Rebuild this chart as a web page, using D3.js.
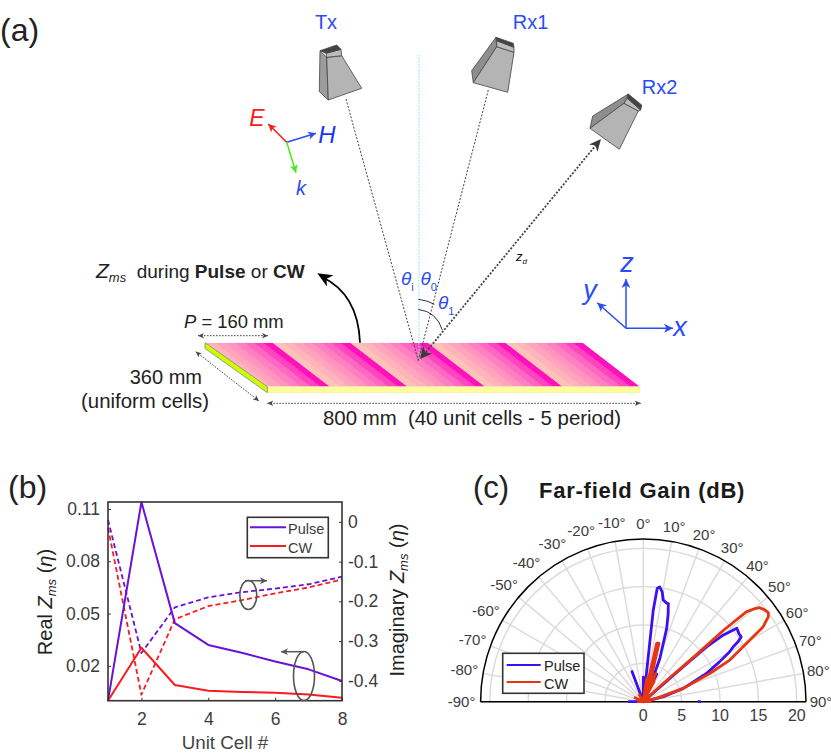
<!DOCTYPE html>
<html>
<head>
<meta charset="utf-8">
<script src="https://d3js.org/d3.v7.min.js"></script>
<style>
    html, body { margin: 0; background: #fff; }
    svg { display: block; font-family: "Liberation Sans", Arial, sans-serif; }
</style>
</head>
<body>
<svg id="fig" width="831" height="756"></svg>
<script>
    // panel (b)
    const unitCells = [1, 2, 3, 4, 5, 6, 7, 8];
    const realPulse = [0.0, 0.114, 0.0445, 0.032, 0.0275, 0.0225, 0.018, 0.0113];
    const realCW = [0.0, 0.0304, 0.009, 0.0057, 0.005, 0.0045, 0.0035, 0.0017];
    const imagPulse = [0.005, -0.33, -0.215, -0.19, -0.177, -0.168, -0.157, -0.138];
    const imagCW = [-0.015, -0.435, -0.245, -0.212, -0.197, -0.18, -0.165, -0.145];
    const realTicks = [0.02, 0.05, 0.08, 0.11];
    const imagTicks = [0, -0.1, -0.2, -0.3, -0.4];
    const cellTicks = [2, 4, 6, 8];

    // panel (c), null = gap in the trace
    const pulseTheta = [-90, -90, -21.5, -20.5, -3, 0, 1, 6.3, 6.2, 7, 8.2, 9.8, 11.1, 13.3, 14.3, 15.8, 17.7, 21, 22.6, 24, 26, 30,
        48.8, 49, 50.2, 51.8, 54.6, 56.5, 57.7, 58.6, 60, 62.4, 65.9, 71.6, 76, 85, 90, 90, 90];
    const pulseGain = [2, 0, 0, 4.2, 0, 3.2, 0, 5.9, 12, 14.9, 15.1, 14.5, 13.5, 13.2, 13.2, 11.9, 10, 6, 2.8, 0, 4, 0,
        6.9, 10.9, 13.6, 15.5, 15.3, 15.3, 14.6, 13.7, 13, 11.2, 9, 5.5, 2.7, 0, null, 7.1, 7.5];
    const cwTheta = [-90, -64, -64, -30, -30, 0, 5, 8, 9, 12.9, 15, 20, 22, 24, 27, 28, 29, 35,
        47.5, 48.5, 48.3, 48.9, 50, 51.1, 52.7, 54.5, 55.8, 58, 60, 64.3, 67, 71.6, 76, 85, 90, 90];
    const cwGain = [0.8, 0, 1.2, 0, 1, 0, 0, 3, 0, 7.8, 7.9, 2.5, 0, 4, 1, 3, 0, 0,
        3.5, 9.2, 14, 17.8, 18.8, 19.5, 19.8, 20, 19.7, 18.4, 16, 12.5, 9.4, 5.5, 1.8, 0, 0, 1.1];
    const gainTicks = [0, 5, 10, 15, 20];
    const angleTicks = d3.range(-90, 91, 10);

    // panel (a) sketch: horn faces [fill, points]
    const hornTx = [
        ["#9c9c9c", [[320, 50.7], [326.7, 57.3], [328.3, 100], [319.3, 91.7]]],
        ["#b4b4b4", [[326.7, 57.3], [341.7, 55.7], [361.7, 88.3], [328.3, 100]]],
        ["#bcbcbc", [[326, 53.3], [341, 49.3], [341.7, 55.7], [326.7, 57.3]]],
        ["#444444", [[320, 50.7], [336.7, 45], [341, 49.3], [326, 53.3]]]
    ];
    const hornRx1 = [
        ["#8e8e8e", [[496, 37.3], [496.7, 46.7], [473.3, 82.7], [471.7, 70.7]]],
        ["#b4b4b4", [[496.7, 46.7], [514, 52.3], [507.7, 92.3], [473.3, 82.7]]],
        ["#bcbcbc", [[496.7, 40.7], [514, 47.3], [514, 52.3], [496.7, 46.7]]],
        ["#444444", [[496, 37.3], [513.3, 43.3], [514, 47.3], [496.7, 40.7]]]
    ];
    const hornRx2 = [
        ["#8e8e8e", [[628.3, 94], [624, 103.3], [590, 128.3], [592.7, 116]]],
        ["#b4b4b4", [[624, 103.3], [638.3, 111], [619.3, 149.3], [590, 128.3]]],
        ["#bcbcbc", [[627.3, 98.3], [640.7, 110], [638.3, 111], [624, 103.3]]],
        ["#444444", [[628.3, 94], [641.7, 105], [640.7, 110], [627.3, 98.3]]]
    ];
    const bandColors = ["#fdc2b8", "#feb4ba", "#ffa4bc", "#ff94be", "#ff80c0", "#ff68c0", "#ff44bf", "#ff12bb"];

    const BLUE = "#2b4cf5", FONT_TEXT = "#222", TICK_TEXT = "#3c3c3c";
    const PULSE_B = "#6a12d8", CW_B = "#fb1a1e", PULSE_C = "#3c10f0", CW_C = "#e6350f";

    const svg = d3.select("#fig");

    function label(g, x, y, size, fill, parts, anchor) {
        // parts: plain string or list of [text, {style}] runs
        const t = g.append("text").attr("x", x).attr("y", y)
            .attr("font-size", size).attr("fill", fill)
            .attr("text-anchor", anchor || "start")
            .attr("xml:space", "preserve");
        if (typeof parts === "string") { t.text(parts); return t; }
        parts.forEach(p => {
            const s = t.append("tspan").text(p[0]);
            const o = p[1] || {};
            if (o.i) s.attr("font-style", "italic");
            if (o.b) s.attr("font-weight", "bold");
            if (o.fs) s.attr("font-size", o.fs);
            if (o.dy) s.attr("dy", o.dy);
        });
        return t;
    }

    function head(g, x1, y1, x2, y2, len, wid, fill) {
        const a = Math.atan2(y2 - y1, x2 - x1);
        const pt = (l, w) => [x2 - l * Math.cos(a) - w * Math.sin(a), y2 - l * Math.sin(a) + w * Math.cos(a)];
        g.append("polygon")
            .attr("points", [[x2, y2], pt(len, wid), pt(len * 0.72, 0), pt(len, -wid)].join(" "))
            .attr("fill", fill);
    }

    function arrow(g, x1, y1, x2, y2, color, width, len, wid, dash) {
        g.append("line").attr("x1", x1).attr("y1", y1).attr("x2", x2).attr("y2", y2)
            .attr("stroke", color).attr("stroke-width", width).attr("stroke-dasharray", dash || null);
        head(g, x1, y1, x2, y2, len, wid, color);
    }

    function dimension(g, x1, y1, x2, y2) {
        g.append("line").attr("x1", x1).attr("y1", y1).attr("x2", x2).attr("y2", y2)
            .attr("stroke", "#444").attr("stroke-width", 1).attr("stroke-dasharray", "1.6 1.4");
        head(g, x2, y2, x1, y1, 6, 2.8, "#444");
        head(g, x1, y1, x2, y2, 6, 2.8, "#444");
    }

    /* ---------- panel (a) ---------- */
    const a = svg.append("g");
    label(a, 0, 41, 32, FONT_TEXT, "(a)");

    const cellX = d3.scaleLinear().domain([0, 40]).range([195.1, 582.7]);
    const plateTop = 342.7, plateBottom = 386.7, shear = 57.3;
    svg.append("clipPath").attr("id", "plate").append("polygon")
        .attr("points", [[205, plateTop], [582.7, plateTop], [640, plateBottom], [267.3, plateBottom]].join(" "));
    a.append("g").attr("clip-path", "url(#plate)")
        .selectAll("polygon").data(d3.range(40)).enter().append("polygon")
        .attr("points", i => [[cellX(i), plateTop], [cellX(i + 1) + 0.4, plateTop],
            [cellX(i + 1) + shear + 0.4, plateBottom], [cellX(i) + shear, plateBottom]].join(" "))
        .attr("fill", i => bandColors[i % 8]);
    a.append("polygon")
        .attr("points", [[267.3, plateBottom], [640, plateBottom], [640, 392.7], [267.3, 392.7]].join(" "))
        .attr("fill", "#ffff99").attr("stroke", "#e6e6c0").attr("stroke-width", 0.5);
    a.append("polygon")
        .attr("points", [[205, 342.7], [267.3, 386.7], [267.3, 392.7], [205, 348.4]].join(" "))
        .attr("fill", "#ccff00").attr("stroke", "#777").attr("stroke-width", 0.7);

    [hornTx, hornRx1, hornRx2].forEach(horn => {
        a.append("g").selectAll("polygon").data(horn).enter().append("polygon")
            .attr("points", d => d[1].join(" "))
            .attr("fill", d => d[0]).attr("stroke", "#444").attr("stroke-width", 0.8)
            .attr("stroke-linejoin", "round");
    });

    // rays
    a.append("line").attr("x1", 419).attr("y1", 55).attr("x2", 419).attr("y2", 361)
        .attr("stroke", "#6fe8ee").attr("stroke-width", 1).attr("stroke-dasharray", "1.5 1.5");
    a.append("line").attr("x1", 346).attr("y1", 99).attr("x2", 418.3).attr("y2", 360.7)
        .attr("stroke", "#444").attr("stroke-width", 1).attr("stroke-dasharray", "2 1.6");
    a.append("line").attr("x1", 488.3).attr("y1", 90).attr("x2", 418.3).attr("y2", 360.7)
        .attr("stroke", "#444").attr("stroke-width", 1).attr("stroke-dasharray", "2 1.6");
    a.append("line").attr("x1", 426).attr("y1", 352).attr("x2", 596).attr("y2", 145)
        .attr("stroke", "#444").attr("stroke-width", 1.8).attr("stroke-dasharray", "2 1.6");
    head(a, 590, 152, 601, 139, 12, 5.5, "#3a3a3a");
    head(a, 440, 335, 420, 359, 12, 6, "#3a3a3a");

    const arcs = a.append("g").attr("fill", "none").attr("stroke", "#333").attr("stroke-width", 1);
    arcs.append("path").attr("d", "M418.3,299.3 Q428,300.5 434.3,304.3");
    arcs.append("path").attr("d", "M418.3,309.3 Q437,312 442.3,330");

    label(a, 401, 285, 19, BLUE, [["θ", { i: 1 }], ["i", { fs: 11, dy: 6 }]]);
    label(a, 420.5, 285, 19, BLUE, [["θ", { i: 1 }], ["0", { fs: 11, dy: 6 }]]);
    label(a, 438, 309, 19, BLUE, [["θ", { i: 1 }], ["1", { fs: 11, dy: 6 }]]);
    label(a, 516, 261, 13, "#111", [["z", { i: 1 }], ["d", { i: 1, fs: 8, dy: 3 }]]);

    label(a, 326, 29, 20, BLUE, "Tx", "middle");
    label(a, 530.5, 29, 20, BLUE, "Rx1", "middle");
    label(a, 659.5, 94, 20, BLUE, "Rx2", "middle");

    // field triad
    arrow(a, 286.7, 142.3, 268.3, 124, "#fa1a1a", 1.5, 8, 4);
    arrow(a, 286.7, 142.3, 316, 133.3, BLUE, 1.5, 8, 4);
    arrow(a, 286.7, 142.3, 296, 172.7, "#44ee11", 1.5, 8, 4);
    label(a, 257, 126, 23, "#fa1a1a", [["E", { i: 1 }]], "middle");
    label(a, 327, 143, 24, "#1a35f0", [["H", { i: 1 }]], "middle");
    label(a, 301, 195, 20, BLUE, [["k", { i: 1 }]], "middle");

    // coordinate triad
    arrow(a, 626, 328.3, 626, 279, BLUE, 1.5, 9, 4.5);
    arrow(a, 626, 328.3, 597.3, 302.7, BLUE, 1.5, 9, 4.5);
    arrow(a, 626, 328.3, 673, 328.3, BLUE, 1.5, 9, 4.5);
    label(a, 627, 272, 27, BLUE, [["z", { i: 1 }]], "middle");
    label(a, 590, 299, 27, BLUE, [["y", { i: 1 }]], "middle");
    label(a, 680, 336, 27, BLUE, [["x", { i: 1 }]], "middle");

    // bold curved arrow from the surface
    a.append("path").attr("d", "M360,342.7 Q358,294 322,277")
        .attr("fill", "none").attr("stroke", "#000").attr("stroke-width", 1.8);
    head(a, 332, 282, 317.3, 273.3, 15, 6.5, "#000");

    label(a, 96, 278, 19, FONT_TEXT, [["Z", { i: 1, fs: 21 }], ["ms", { i: 1, fs: 13, dy: 4 }],
        ["  during ", { dy: -4 }], ["Pulse", { b: 1 }], [" or "], ["CW", { b: 1 }]]);
    label(a, 184, 328, 18.4, FONT_TEXT, [["P", { i: 1 }], [" = 160 mm"]]);
    label(a, 202, 384, 20, FONT_TEXT, "360 mm", "end");
    label(a, 81, 408, 20.4, FONT_TEXT, "(uniform cells)");
    label(a, 323, 425, 20.4, FONT_TEXT, "800 mm  (40 unit cells - 5 period)");
    dimension(a, 198, 335.7, 268, 335.7);
    dimension(a, 195.7, 351.7, 259, 401);
    dimension(a, 267.3, 403.3, 640.7, 403.3);

    /* ---------- panel (b) ---------- */
    const b = svg.append("g");
    label(b, 8, 498, 32, FONT_TEXT, "(b)");

    const boxB = { left: 108, right: 342, top: 502, bottom: 700.7 };
    const xB = d3.scaleLinear().domain([1, 8]).range([boxB.left, boxB.right]);
    const yReal = d3.scaleLinear().domain([0, 0.114]).range([boxB.bottom, boxB.top]);
    const yImag = d3.scaleLinear().domain([-0.45, 0.05]).range([boxB.bottom, boxB.top]);

    const styleAxis = g => {
        g.selectAll("text").attr("font-size", 17.5).attr("fill", TICK_TEXT)
            .attr("font-family", "Liberation Sans");
        g.selectAll("line").attr("stroke", "#333").attr("stroke-width", 1);
        g.select(".domain").remove();
    };
    b.append("g").attr("transform", `translate(0,${boxB.bottom})`)
        .call(d3.axisBottom(xB).tickValues(cellTicks).tickSize(-3).tickSizeOuter(0).tickPadding(12).tickFormat(d3.format("d")))
        .call(styleAxis);
    b.append("g").attr("transform", `translate(${boxB.left},0)`)
        .call(d3.axisLeft(yReal).tickValues(realTicks).tickSize(-3).tickSizeOuter(0).tickPadding(8).tickFormat(d3.format(".2f")))
        .call(styleAxis);
    b.append("g").attr("transform", `translate(${boxB.right},0)`)
        .call(d3.axisRight(yImag).tickValues(imagTicks).tickSize(-3).tickSizeOuter(0).tickPadding(6)
            .tickFormat(d => d === 0 ? "0" : d3.format(".1f")(d).replace("−", "-")))
        .call(styleAxis);

    const traces = b.append("g").attr("fill", "none").attr("stroke-linejoin", "round");
    const lineReal = d3.line().x((d, i) => xB(unitCells[i])).y(d => yReal(d));
    const lineImag = d3.line().x((d, i) => xB(unitCells[i])).y(d => yImag(d));
    traces.append("path").attr("d", lineImag(imagPulse)).attr("stroke", PULSE_B).attr("stroke-width", 1.8).attr("stroke-dasharray", "5 3");
    traces.append("path").attr("d", lineImag(imagCW)).attr("stroke", CW_B).attr("stroke-width", 1.8).attr("stroke-dasharray", "5 3");
    traces.append("path").attr("d", lineReal(realPulse)).attr("stroke", PULSE_B).attr("stroke-width", 2);
    traces.append("path").attr("d", lineReal(realCW)).attr("stroke", CW_B).attr("stroke-width", 2);

    b.append("rect").attr("x", boxB.left).attr("y", boxB.top)
        .attr("width", boxB.right - boxB.left).attr("height", boxB.bottom - boxB.top)
        .attr("fill", "none").attr("stroke", "#333").attr("stroke-width", 1.6);

    // axis-pointer ellipses
    const notes = b.append("g");
    notes.append("ellipse").attr("cx", 248.3).attr("cy", 595).attr("rx", 8.5).attr("ry", 14.5)
        .attr("fill", "none").attr("stroke", "#555").attr("stroke-width", 1.6);
    notes.append("ellipse").attr("cx", 304).attr("cy", 676).attr("rx", 10.5).attr("ry", 24.5)
        .attr("fill", "none").attr("stroke", "#555").attr("stroke-width", 1.6);
    arrow(notes, 245, 580.7, 267, 580.7, "#555", 1.5, 7, 3.5);
    arrow(notes, 304, 651.7, 281, 651.7, "#555", 1.5, 7, 3.5);

    // legend
    b.append("rect").attr("x", 247.3).attr("y", 517.3).attr("width", 81).attr("height", 40.4)
        .attr("fill", "#fff").attr("stroke", "#333").attr("stroke-width", 1.6);
    b.append("line").attr("x1", 250).attr("y1", 527.3).attr("x2", 286).attr("y2", 527.3).attr("stroke", PULSE_B).attr("stroke-width", 2);
    b.append("line").attr("x1", 250).attr("y1", 546).attr("x2", 286).attr("y2", 546).attr("stroke", CW_B).attr("stroke-width", 2);
    label(b, 288, 534, 14.5, TICK_TEXT, "Pulse");
    label(b, 288, 553, 14.5, TICK_TEXT, "CW");

    label(b, 225, 749, 18.8, "#444", "Unit Cell #", "middle");
    const yLabelLeft = label(b, 0, 0, 20, FONT_TEXT, [["Real "], ["Z", { i: 1 }], ["ms", { i: 1, fs: 13, dy: 4 }], [" ("], ["η", { i: 1 }], [")"]], "middle");
    yLabelLeft.attr("transform", "translate(52,602) rotate(-90)");
    yLabelLeft.selectAll("tspan").filter((d, i) => i === 3).attr("dy", -4);
    const yLabelRight = label(b, 0, 0, 20, FONT_TEXT, [["Imaginary "], ["Z", { i: 1 }], ["ms", { i: 1, fs: 13, dy: 4 }], [" ("], ["η", { i: 1 }], [")"]], "middle");
    yLabelRight.attr("transform", "translate(404,600) rotate(-90)");
    yLabelRight.selectAll("tspan").filter((d, i) => i === 3).attr("dy", -4);

    /* ---------- panel (c) ---------- */
    const c = svg.append("g");
    label(c, 473, 498, 31, FONT_TEXT, "(c)");
    label(c, 539, 498, 22, "#1a1a1a", [["Far-field Gain (dB)", { b: 1 }]]).attr("letter-spacing", 0.75);

    const cx = 643.3, cy = 701.7;
    const rGain = d3.scaleLinear().domain([0, 20]).range([0, 153.5]);
    const edgeGain = 21.2;
    const deg = d => d * Math.PI / 180;
    const polar = c.append("g").attr("transform", `translate(${cx},${cy})`);

    polar.selectAll(".spoke").data(angleTicks).enter().append("line")
        .attr("class", "spoke")
        .attr("x1", 0).attr("y1", 0)
        .attr("x2", d => rGain(edgeGain) * Math.sin(deg(d)))
        .attr("y2", d => -rGain(edgeGain) * Math.cos(deg(d)))
        .attr("stroke", "#dcdcdc").attr("stroke-width", 1.5);
    const ring = d3.arc().startAngle(deg(-90)).endAngle(deg(90));
    polar.selectAll(".ring").data(gainTicks.slice(1)).enter().append("path")
        .attr("class", "ring")
        .attr("d", d => ring({ innerRadius: rGain(d), outerRadius: rGain(d) }))
        .attr("fill", "none").attr("stroke", "#dcdcdc").attr("stroke-width", 1.5);

    polar.append("path")
        .attr("d", ring({ innerRadius: rGain(edgeGain), outerRadius: rGain(edgeGain) }))
        .attr("fill", "none").attr("stroke", "#000").attr("stroke-width", 1.5);
    polar.append("line").attr("x1", -rGain(edgeGain)).attr("x2", rGain(edgeGain))
        .attr("stroke", "#000").attr("stroke-width", 1.5);

    const radial = d3.lineRadial()
        .defined(d => d.r !== null)
        .angle(d => deg(d.t)).radius(d => rGain(d.r));
    const zipTrace = (ts, rs) => ts.map((t, i) => ({ t: t, r: rs[i] }));
    polar.append("path").attr("d", radial(zipTrace(pulseTheta, pulseGain)))
        .attr("fill", "none").attr("stroke", PULSE_C).attr("stroke-width", 2.8).attr("stroke-linejoin", "round");
    polar.append("path").attr("d", radial(zipTrace(cwTheta, cwGain)))
        .attr("fill", "none").attr("stroke", CW_C).attr("stroke-width", 2.8).attr("stroke-linejoin", "round");

    polar.selectAll(".ang").data(angleTicks).enter().append("text")
        .attr("class", "ang")
        .attr("x", d => (rGain(edgeGain) + (d < 0 ? 19 : 15)) * Math.sin(deg(d)))
        .attr("y", d => -(rGain(edgeGain) + (d < 0 ? 19 : 15)) * Math.cos(deg(d)) + 5)
        .attr("text-anchor", "middle").attr("font-size", 15).attr("fill", TICK_TEXT)
        .text(d => d + "°");
    polar.selectAll(".gain").data(gainTicks).enter().append("text")
        .attr("class", "gain")
        .attr("x", d => rGain(d)).attr("y", 19.5)
        .attr("text-anchor", "middle").attr("font-size", 16).attr("fill", TICK_TEXT)
        .text(d => d);

    c.append("rect").attr("x", 502.7).attr("y", 653.3).attr("width", 81.3).attr("height", 40)
        .attr("fill", "#fff").attr("stroke", "#333").attr("stroke-width", 1.6);
    c.append("line").attr("x1", 506.7).attr("y1", 665).attr("x2", 540.7).attr("y2", 665).attr("stroke", PULSE_C).attr("stroke-width", 2);
    c.append("line").attr("x1", 506.7).attr("y1", 682).attr("x2", 540.7).attr("y2", 682).attr("stroke", CW_C).attr("stroke-width", 2);
    label(c, 544, 670.5, 14.5, "#222", "Pulse");
    label(c, 544, 689, 14.5, "#222", "CW");
</script>
</body>
</html>
